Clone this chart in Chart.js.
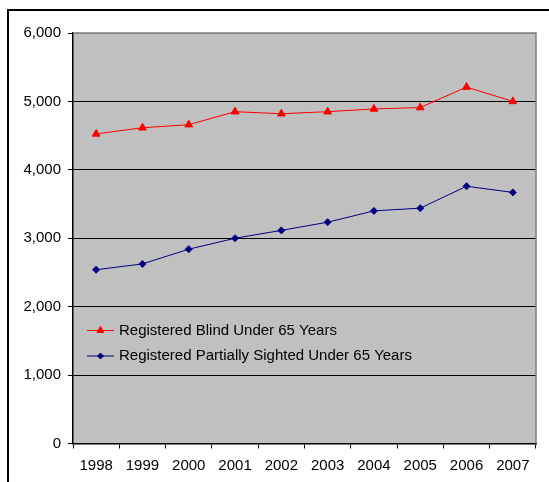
<!DOCTYPE html>
<html>
<head>
<meta charset="utf-8">
<script src="https://cdn.jsdelivr.net/npm/chart.js@4"></script>
<style>
  html, body { margin: 0; padding: 0; background: #fff; overflow: hidden; }
  #frame { position: absolute; left: 7px; top: 9px; width: 700px; height: 700px; border: 2px solid #000; box-sizing: border-box; }
  #wrap { position: absolute; left: 0; top: 0; width: 549px; height: 482px; }
</style>
</head>
<body>
<div id="frame"></div>
<div id="wrap"><canvas id="c"></canvas></div>
<script>
const categories = ['1998','1999','2000','2001','2002','2003','2004','2005','2006','2007'];
const blindValues = [4525, 4615, 4660, 4850, 4820, 4850, 4890, 4910, 5210, 5000];
const partialValues = [2540, 2625, 2840, 3000, 3115, 3235, 3400, 3440, 3760, 3670];
const seriesLabels = ['Registered Blind Under 65 Years', 'Registered Partially Sighted Under 65 Years'];

const FONT = '"Liberation Sans", Arial, sans-serif';

const plotBg = {
  id: 'plotBg',
  beforeDraw(chart) {
    const a = chart.chartArea, ctx = chart.ctx;
    ctx.save();
    ctx.fillStyle = '#C0C0C0';
    ctx.fillRect(a.left, a.top, a.right - a.left, a.bottom - a.top);
    ctx.restore();
  },
  beforeDatasetsDraw(chart) {
    const a = chart.chartArea, ctx = chart.ctx;
    ctx.save();
    ctx.strokeStyle = '#808080';
    ctx.lineWidth = 1.5;
    ctx.beginPath();
    ctx.moveTo(a.left, a.top);
    ctx.lineTo(a.right, a.top);
    ctx.lineTo(a.right, a.bottom);
    ctx.stroke();
    ctx.restore();
  }
};

const insideLegend = {
  id: 'insideLegend',
  afterDatasetsDraw(chart) {
    const ctx = chart.ctx;
    const x0 = 87, x1 = 114, tx = 119;
    const ys = [330.5, 356];
    chart.data.datasets.forEach((ds, i) => {
      const y = ys[i];
      ctx.save();
      ctx.strokeStyle = ds.borderColor;
      ctx.fillStyle = ds.backgroundColor;
      ctx.lineWidth = 1;
      ctx.beginPath();
      ctx.moveTo(x0, y);
      ctx.lineTo(x1, y);
      ctx.stroke();
      Chart.helpers.drawPoint(ctx, {pointStyle: ds.pointStyle, radius: ds.pointRadius - 0.5, rotation: 0, borderWidth: 1}, (x0 + x1) / 2, y);
      ctx.fillStyle = '#000';
      ctx.font = '15px ' + FONT;
      ctx.textBaseline = 'middle';
      ctx.textAlign = 'left';
      ctx.fillText(ds.label, tx, y);
      ctx.restore();
    });
  }
};

new Chart(document.getElementById('c'), {
  type: 'line',
  data: {
    labels: categories,
    datasets: [
      {
        label: seriesLabels[0],
        data: blindValues,
        borderColor: '#FF0000',
        backgroundColor: '#FF0000',
        borderWidth: 1,
        pointStyle: 'triangle',
        pointRadius: 4.5,
        pointBorderWidth: 1,
        tension: 0
      },
      {
        label: seriesLabels[1],
        data: partialValues,
        borderColor: '#000080',
        backgroundColor: '#000080',
        borderWidth: 1,
        pointStyle: 'rectRot',
        pointRadius: 3.5,
        pointBorderWidth: 1,
        tension: 0
      }
    ]
  },
  options: {
    responsive: true,
    maintainAspectRatio: false,
    animation: false,
    layout: { padding: { left: 0, top: 33, right: 13, bottom: 0 } },
    plugins: {
      legend: { display: false },
      tooltip: { enabled: false },
      title: { display: false }
    },
    scales: {
      x: {
        offset: true,
        grid: { offset: true, drawOnChartArea: false, drawTicks: true, tickLength: 5, color: '#000', lineWidth: 1 },
        border: { display: true, color: '#000', width: 1.5 },
        ticks: { color: '#000', font: { family: FONT, size: 15 }, padding: 8, maxRotation: 0, autoSkip: false },
        afterFit(s) { s.height = 38.5; }
      },
      y: {
        min: 0,
        max: 6000,
        grid: {
          color: (c) => (c.tick && c.tick.value === 6000) ? '#808080' : '#000',
          tickColor: '#000',
          lineWidth: 1,
          tickLength: 5
        },
        border: { display: true, color: '#000', width: 1.5 },
        ticks: {
          stepSize: 1000,
          color: '#000',
          padding: 7,
          font: { family: FONT, size: 15 },
          callback: (v) => v.toLocaleString('en-US')
        },
        afterFit(s) { s.width = 73; }
      }
    }
  },
  plugins: [plotBg, insideLegend]
});
</script>
</body>
</html>
